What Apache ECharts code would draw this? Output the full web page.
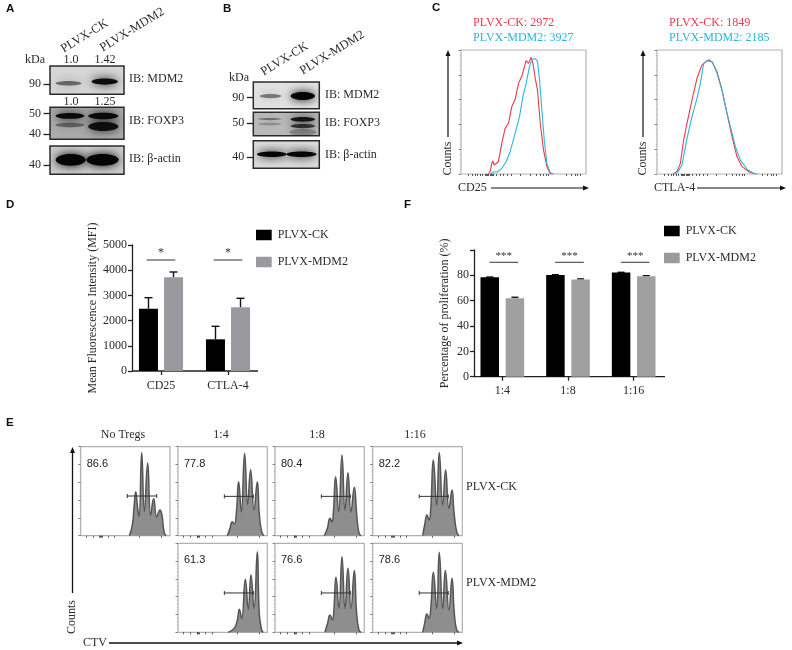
<!DOCTYPE html>
<html><head><meta charset="utf-8">
<style>html,body{margin:0;padding:0;background:#fff}#c{width:792px;height:650px}</style>
<script src="https://cdn.jsdelivr.net/npm/echarts@6/dist/echarts.min.js"></script>
</head><body><div id="c"></div>
<script>
// ---------- data ----------
const groups = ['PLVX-CK', 'PLVX-MDM2'];
const mfiCategories = ['CD25', 'CTLA-4'];
const mfiCk = [2473, 1257];
const mfiMdm2 = [3717, 2527];
const mfiCkErrTop = [2910, 1773];
const mfiMdm2ErrTop = [3929, 2885];
const mfiSig = [4405, 4405];

const prolifCategories = ['1:4', '1:8', '1:16'];
const prolifCk = [78.5, 80.3, 82.2];
const prolifMdm2 = [62, 76.7, 79.2];
const prolifCkErrTop = [78.7, 80.5, 82.4];
const prolifMdm2ErrTop = [62.7, 77.2, 79.7];
const prolifSig = [90.3, 90.3, 90.3];

// flow histograms, [channel %, count %]
const cd25Ck = [[21.9,0],[23.3,1.9],[24.6,8.6],[25.4,10.5],[26.5,7.3],[28.1,6.7],[29.9,9.9],[32.6,24.7],[35.3,36.8],[38,40.9],[40.6,54.3],[43.3,60.2],[46,73.1],[48.7,79],[52.1,91.4],[54,89.2],[56.1,94.1],[57.5,89.2],[59.4,77.2],[61.2,67.7],[63.4,40.9],[66,19.4],[68.7,5.9],[71.4,.5],[73.5,0]];
const cd25Mdm2 = [[23.8,0],[25.9,1.6],[29.1,1.6],[32.6,4.6],[36.1,9.9],[39.3,18],[43.3,32.8],[46.8,46.2],[49.5,62.4],[52.1,73.1],[54.8,86.6],[56.7,92.5],[59.4,93],[61.2,90.9],[62.8,76.1],[64.7,51.6],[66.6,27.4],[68.7,8.6],[71.4,1.1],[74.1,0]];
const ctlaCk = [[12.8,0],[16,1.9],[18.7,8.6],[21.3,27.4],[24,40.9],[28,59.7],[32,77.2],[36,88],[40,91.4],[44,90.6],[48,82.5],[52,67.7],[56,48.9],[60,30.1],[64,13.9],[68,5.9],[73.3,1.9],[78.7,0]];
const ctlaMdm2 = [[13.3,0],[16.5,1.3],[20,7.3],[24,28.8],[28,46.2],[32,61],[34.7,73],[37.3,89.2],[39.5,90.6],[41.6,92.5],[44.8,89.2],[48,81.2],[52,67.7],[56,48.9],[58.7,38.2],[62.7,22],[66.7,11.2],[72,3.8],[77.3,.5],[80.5,0]];

const ctvNoTregs = [[54.5,0],[57.8,12],[60.1,36.3],[61.6,49.4],[63.8,30.7],[65.3,21.2],[68.3,93.6],[71.3,26.9],[75,81.6],[78.4,23.2],[81.7,41.9],[85.1,21.3],[88.8,28.8],[91,23.2],[93.3,4.5],[95.5,0]];
const ctvCk14 = [[55.2,0],[58.2,8.2],[60.8,15.7],[63.1,13.1],[65.3,25],[67.9,60.7],[70.9,26.9],[74.6,92.5],[78,35.6],[81.3,74.2],[85.1,29.2],[88.8,60.7],[91,25],[93.7,4.5],[96.3,0]];
const ctvCk18 = [[55.2,0],[58.6,8.2],[61.6,19.5],[63.8,15.7],[65.3,25],[67.9,66.3],[71.3,26.9],[75,90.6],[78.4,28.8],[81.7,70.8],[85.1,26.9],[88.8,54.3],[91.4,25],[93.7,4.5],[95.9,0]];
const ctvCk116 = [[55.8,0],[58,12],[60.6,23.2],[62.8,17.6],[64.7,28.8],[67.7,85],[71.4,34.5],[74.3,93.6],[78.1,34.5],[81.4,73.8],[85.1,30.7],[88.5,51.3],[90.7,26.9],[93.7,4.5],[96.3,0]];
const ctvMdm14 = [[56.3,0],[61.9,3.4],[64.9,8.2],[66.8,15.7],[68.7,25.8],[71.3,15.7],[75.4,59.6],[78.7,25.8],[81.7,64.4],[85.1,27],[88.8,90.6],[91,21.3],[93.7,2.6],[95.5,0]];
const ctvMdm18 = [[55.9,0],[58.9,10.1],[61.6,19.5],[64.2,13.9],[65.7,21.3],[68.3,61.8],[71.6,27],[75,85],[78.4,27],[81.7,71.9],[85.1,27],[88.8,69.3],[91.4,21.3],[94,2.6],[96.3,0]];
const ctvMdm116 = [[55.8,0],[58,10.1],[60.6,20.6],[62.8,15.7],[64.7,25],[67.7,67.4],[71.4,27],[74.3,89.9],[78.1,27],[81.1,69.3],[85.1,25],[88.5,60.7],[91.1,21.3],[93.7,2.6],[96.3,0]];
const gateNoTregs = [52.2, 85.1, 44.6];
const gateOther = [51.9, 84.3, 44.2];
const cytoTickValues = [6,9,11,13,15,17,19,20,21,22,23,24,25,26,28,31,34,37,40,47,55,60,63,66,68,70,84,88,91,93,95];
const ctvTickValues = [6.4,13.9,21,22,23,24,30.7,38,66,90.5];

// western blot bands: [lane %, height %, width %, thickness %, darkness]
const bandsAMdm2 = [[25,39,32,16,.5],[74,45,33,22,.95]];
const bandsAFoxp3 = [[27,45,36,14,.4],[72,40,38,28,.9],[27,73,36,18,.95],[72,73,38,20,.95]];
const bandsAActin = [[28,51,38,42,1],[71,51,41,42,1]];
const bandsBMdm2 = [[26,47.5,30,16,.45],[75,47.5,34,30,1]];
const bandsBFoxp3 = [[75,15,38,28,.25],[25,50,32,11,.22],[25,71,32,9,.4],[75,41,34,18,.7],[75,70,34,20,.9]];
const bandsBActin = [[28,51,42,20,1],[73,51,43,20,1]];
const markersAMdm2 = {36:'90'}, markersAFoxp3 = {80:'50',16:'40'}, markersAActin = {32:'40'};
const markersBMdm2 = {42:'90'}, markersBFoxp3 = {55:'50'}, markersBActin = {41:'40'};

// ---------- helpers ----------
const SERIF = '"Liberation Serif","Times New Roman",serif';
const SANS = '"Liberation Sans",Arial,sans-serif';
const grid = [], xAxis = [], yAxis = [], series = [], graphic = [];
const box = (l, t, r, b, extra) => { grid.push(Object.assign({left:l, top:t, width:r-l, height:b-t}, extra)); return grid.length-1; };
const txt = (x, y, text, o={}) => graphic.push({type:'text', x, y, rotation:(o.rot||0)*Math.PI/180, silent:true,
  style:{text, fill:o.color||'#2a2a2a', font:`${o.weight||'normal'} ${o.size||12}px ${o.family||SERIF}`, textAlign:o.align||'left', textVerticalAlign:'middle'}});
const seg = (x1,y1,x2,y2,w=1.5,c='#222') => graphic.push({type:'line', silent:true, shape:{x1,y1,x2,y2}, style:{stroke:c, lineWidth:w}});
const head = (x,y,dir) => { const p = dir==='up' ? [[x,y],[x-2.5,y+6],[x+2.5,y+6]] : [[x,y],[x-6,y-2.5],[x-6,y+2.5]];
  graphic.push({type:'polygon', silent:true, shape:{points:p}, style:{fill:'#111'}}); };

function blot(l,t,r,b,bands,markers,bg) {
  const g = box(l,t,r,b,{show:true, backgroundColor:bg, borderColor:'#2b2b2b', borderWidth:1.5});
  const vals = Object.keys(markers).map(Number);
  xAxis.push({gridIndex:g, type:'value', min:0, max:100, show:false});
  yAxis.push({gridIndex:g, type:'value', min:0, max:100, splitLine:{show:false}, axisLine:{show:false},
    axisTick:{show:true, length:6.5, customValues:vals, lineStyle:{color:'#222', width:1.3}},
    axisLabel:{show:true, customValues:vals, margin:9, fontFamily:SERIF, fontSize:12, color:'#2a2a2a', formatter:v=>markers[v]}});
  series.push({type:'custom', xAxisIndex:g, yAxisIndex:g, clip:true, silent:true, data:bands,
    renderItem:(p,api)=>{
      const c = api.coord([api.value(0),api.value(1)]), s = api.size([api.value(2),api.value(3)]), d = api.value(4);
      const col = `rgba(5,5,5,${d})`;
      return {type:'ellipse', shape:{cx:c[0], cy:c[1], rx:s[0]/2+1, ry:s[1]/2}, style:{fill:col, shadowColor:col, shadowBlur:10}};
    }});
}
function ticksXY(g, ticks) {
  xAxis.push({gridIndex:g, type:'value', min:0, max:100, splitLine:{show:false}, axisLine:{show:false}, axisLabel:{show:false},
    axisTick:{show:true, length:2, customValues:ticks, lineStyle:{color:'#333', width:.8}}});
  yAxis.push({gridIndex:g, type:'value', min:0, max:100, interval:20, splitLine:{show:false}, axisLine:{show:false}, axisLabel:{show:false},
    axisTick:{show:true, length:2.5, lineStyle:{color:'#666', width:.8}},
    minorTick:{show:true, splitNumber:5, length:1.2, lineStyle:{color:'#aaa', width:.6}}});
}
function cytoPanel(l,t,r,b,a,aName,col1,bd,bName,col2) {
  const g = box(l,t,r,b,{show:true, borderColor:'#b4b4b4', borderWidth:1.2});
  ticksXY(g,cytoTickValues);
  series.push({name:aName, type:'line', xAxisIndex:g, yAxisIndex:g, data:a, showSymbol:false, lineStyle:{color:col1, width:1.1}, z:3});
  series.push({name:bName, type:'line', xAxisIndex:g, yAxisIndex:g, data:bd, showSymbol:false, lineStyle:{color:col2, width:1.1}, z:4});
}
function ctvPanel(l,t,r,b,data,gate,value) {
  const g = box(l,t,r,b,{show:true, borderColor:'#b0b0b0', borderWidth:1.2});
  ticksXY(g,ctvTickValues);
  series.push({type:'line', xAxisIndex:g, yAxisIndex:g, data, smooth:.5, showSymbol:false,
    lineStyle:{color:'#555', width:1.5}, areaStyle:{color:'#8e8e8e', opacity:1}});
  series.push({type:'custom', xAxisIndex:g, yAxisIndex:g, clip:false, silent:true, data:[gate], z:5,
    renderItem:(p,api)=>{
      const a=api.coord([api.value(0),api.value(2)]), c=api.coord([api.value(1),api.value(2)]);
      const st={stroke:'#333', lineWidth:1};
      return {type:'group', children:[
        {type:'line', shape:{x1:a[0],y1:a[1],x2:c[0],y2:c[1]}, style:st},
        {type:'line', shape:{x1:a[0],y1:a[1]-2,x2:a[0],y2:a[1]+2}, style:st},
        {type:'line', shape:{x1:c[0],y1:c[1]-2,x2:c[0],y2:c[1]+2}, style:st}]};
    }});
  txt(l+6, t+17, value, {family:SANS, size:11, color:'#222'});
}
function barPanel(cfg) {
  const g = box(cfg.l, cfg.t, cfg.r, cfg.b);
  xAxis.push({gridIndex:g, type:'category', data:cfg.cats, axisLine:{show:false},
    axisTick:{show:true, alignWithLabel:true, length:4, lineStyle:{color:'#222', width:1.3}},
    axisLabel:{fontFamily:SERIF, fontSize:12, color:'#2a2a2a', margin:cfg.lm}});
  yAxis.push({gridIndex:g, type:'value', min:0, max:cfg.max, interval:cfg.step, offset:-4.5, splitLine:{show:false},
    name:cfg.title, nameLocation:'middle', nameGap:cfg.gap, nameRotate:90,
    nameTextStyle:{fontFamily:SERIF, fontSize:12, color:'#2a2a2a'},
    axisLine:{show:true, lineStyle:{color:'#222', width:1.3}},
    axisTick:{show:true, length:4, lineStyle:{color:'#222', width:1.3}},
    axisLabel:{fontFamily:SERIF, fontSize:12, color:'#2a2a2a', margin:5, formatter:cfg.fmt}});
  const bw = cfg.bw, off = cfg.off;
  series.push({name:groups[0], type:'bar', xAxisIndex:g, yAxisIndex:g, data:cfg.a, barWidth:bw, barGap:cfg.bg, itemStyle:{color:'#000'}});
  series.push({name:groups[1], type:'bar', xAxisIndex:g, yAxisIndex:g, data:cfg.c, barWidth:bw, barGap:cfg.bg, itemStyle:{color:cfg.gray}});
  const err = (tops,bars,dx) => series.push({type:'custom', xAxisIndex:g, yAxisIndex:g, silent:true, z:1,
    data:tops.map((v,i)=>[i,bars[i],v]),
    renderItem:(p,api)=>{
      const a=api.coord([api.value(0),api.value(1)]), c=api.coord([api.value(0),api.value(2)]), x=a[0]+dx;
      const st={stroke:'#111', lineWidth:1.4};
      return {type:'group', children:[
        {type:'line', shape:{x1:x,y1:a[1],x2:x,y2:c[1]}, style:st},
        {type:'line', shape:{x1:x-cfg.cap,y1:c[1],x2:x+cfg.cap,y2:c[1]}, style:st}]};
    }});
  err(cfg.ea, cfg.a, -off); err(cfg.ec, cfg.c, off);
  series.push({type:'custom', xAxisIndex:g, yAxisIndex:g, silent:true, clip:false,
    data:cfg.sig.map((v,i)=>[i,v]),
    renderItem:(p,api)=>{
      const c=api.coord([api.value(0),api.value(1)]), x=c[0]+cfg.sdx;
      return {type:'group', children:[
        {type:'line', shape:{x1:x-14.3,y1:c[1],x2:x+14.3,y2:c[1]}, style:{stroke:'#333', lineWidth:1}},
        {type:'text', x, y:c[1]-cfg.sy, style:{text:cfg.star, fill:'#333', font:`${cfg.ss}px ${SERIF}`, textAlign:'center', textVerticalAlign:'middle'}}]};
    }});
  seg(cfg.ax1, cfg.b, cfg.ax2, cfg.b, 1.3);
}

// ---------- panel A ----------
blot(50,66,124,94.3,bandsAMdm2,markersAMdm2,'#d6d6d6');
blot(50,107.3,124,139.3,bandsAFoxp3,markersAFoxp3,'#ababab');
blot(50,146,124,174.3,bandsAActin,markersAActin,'#cbcbcb');
txt(6,9,'A',{family:SANS,weight:'bold',size:11.5,color:'#111'});
txt(62,50,'PLVX-CK',{rot:31.5,size:12.5});
txt(101,49,'PLVX-MDM2',{rot:31.5,size:12.5});
txt(25,59.5,'kDa');
txt(71,60,'1.0',{align:'center'}); txt(105,60,'1.42',{align:'center'});
txt(71,102,'1.0',{align:'center'}); txt(105,102,'1.25',{align:'center'});
txt(129,79,'IB: MDM2'); txt(129,121,'IB: FOXP3'); txt(129,159,'IB: β-actin');

// ---------- panel B ----------
blot(253.3,82,319.3,108.7,bandsBMdm2,markersBMdm2,'#e2e2e2');
blot(253.3,112.3,319.3,135.7,bandsBFoxp3,markersBFoxp3,'#b9b9b9');
blot(253.3,140.7,319.3,168.3,bandsBActin,markersBActin,'#dcdcdc');
txt(223,9,'B',{family:SANS,weight:'bold',size:11.5,color:'#111'});
txt(262,73,'PLVX-CK',{rot:31.5,size:12.5});
txt(301,72,'PLVX-MDM2',{rot:31.5,size:12.5});
txt(229,78,'kDa');
txt(325,94.5,'IB: MDM2'); txt(325,123,'IB: FOXP3'); txt(325,155,'IB: β-actin');

// ---------- panel C ----------
const RED='#ea3a46', CYAN='#2ab6dc';
cytoPanel(461,50,586,174,cd25Ck,'CD25 CK',RED,cd25Mdm2,'CD25 MDM2',CYAN);
cytoPanel(657,50,782,174,ctlaCk,'CTLA-4 CK',RED,ctlaMdm2,'CTLA-4 MDM2',CYAN);
txt(432,8,'C',{family:SANS,weight:'bold',size:11.5,color:'#111'});
txt(473,23,'PLVX-CK: 2972',{color:RED}); txt(473,38,'PLVX-MDM2: 3927',{color:CYAN});
txt(669,23,'PLVX-CK: 1849',{color:RED}); txt(669,38,'PLVX-MDM2: 2185',{color:CYAN});
[[448,458,491,589,'CD25'],[643,654,697,786,'CTLA-4']].forEach(([ax,tx,x1,x2,n])=>{
  seg(ax,137,ax,56,1.2,'#111'); head(ax,50,'up');
  txt(ax,158.5,'Counts',{rot:90,align:'center'});
  txt(tx,188,n); seg(x1,188,x2-5,188,1.2,'#111'); head(x2,188,'right');
});

// ---------- panel D ----------
txt(6,205,'D',{family:SANS,weight:'bold',size:11.5,color:'#111'});
barPanel({l:127.5,r:261.5,t:245,b:371,cats:mfiCategories,max:5000,step:1000,title:'Mean Fluorescence Intensity (MFI)',gap:33,fmt:v=>String(v),
  a:mfiCk,c:mfiMdm2,ea:mfiCkErrTop,ec:mfiMdm2ErrTop,sig:mfiSig,bw:19,bg:'32%',off:12.5,cap:4,gray:'#9a9a9e',star:'*',ss:12,sy:7,sdx:0,ax1:132,ax2:258,lm:9});

// ---------- panel F ----------
txt(404,205,'F',{family:SANS,weight:'bold',size:11.5,color:'#111'});
barPanel({l:469.5,r:666.5,t:250,b:376.7,cats:prolifCategories,max:100,step:20,title:'Percentage of proliferation (%)',gap:23,fmt:v=>v===100?'':String(v),
  a:prolifCk,c:prolifMdm2,ea:prolifCkErrTop,ec:prolifMdm2ErrTop,sig:prolifSig,bw:18.5,bg:'36%',off:12.6,cap:3.5,gray:'#a0a0a0',star:'***',ss:11,sy:6,sdx:1.5,ax1:474,ax2:665,lm:8});

// ---------- panel E ----------
txt(6,423,'E',{family:SANS,weight:'bold',size:11.5,color:'#111'});
ctvPanel(80.7,446.7,170,535.7,ctvNoTregs,gateNoTregs,'86.6');
ctvPanel(178,446.7,267.3,535.7,ctvCk14,gateOther,'77.8');
ctvPanel(275,446.7,364.3,535.7,ctvCk18,gateOther,'80.4');
ctvPanel(372.7,446.7,462.3,535.7,ctvCk116,gateOther,'82.2');
ctvPanel(178,543.3,267.3,632.3,ctvMdm14,gateOther,'61.3');
ctvPanel(275,543.3,364.3,632.3,ctvMdm18,gateOther,'76.6');
ctvPanel(372.7,543.3,462.3,632.3,ctvMdm116,gateOther,'78.6');
txt(123,435,'No Tregs',{align:'center'}); txt(221,435,'1:4',{align:'center'});
txt(317,435,'1:8',{align:'center'}); txt(415,435,'1:16',{align:'center'});
txt(466,487,'PLVX-CK'); txt(466,583,'PLVX-MDM2');
seg(72.5,593,72.5,453,1.3,'#111'); head(72.5,447,'up');
txt(72,617,'Counts',{rot:90,align:'center'});
txt(83,643,'CTV'); seg(109,643,458,643,1.3,'#111'); head(463,643,'right');

const legendBase = {orient:'vertical', data:groups, icon:'rect', padding:0, itemWidth:15.7, itemHeight:10.5, itemGap:15, selectedMode:false,
  itemStyle:{borderWidth:0}, textStyle:{fontFamily:SERIF, fontSize:12, color:'#2a2a2a', padding:[0,0,0,1]}};

const chart = echarts.init(document.getElementById('c'), null, {renderer:'canvas'});
chart.setOption({
  animation:false, backgroundColor:'#fff',
  grid, xAxis, yAxis, series, graphic,
  legend:[Object.assign({left:256, top:229},legendBase), Object.assign({left:664, top:225},legendBase)]
});
</script></body></html>
